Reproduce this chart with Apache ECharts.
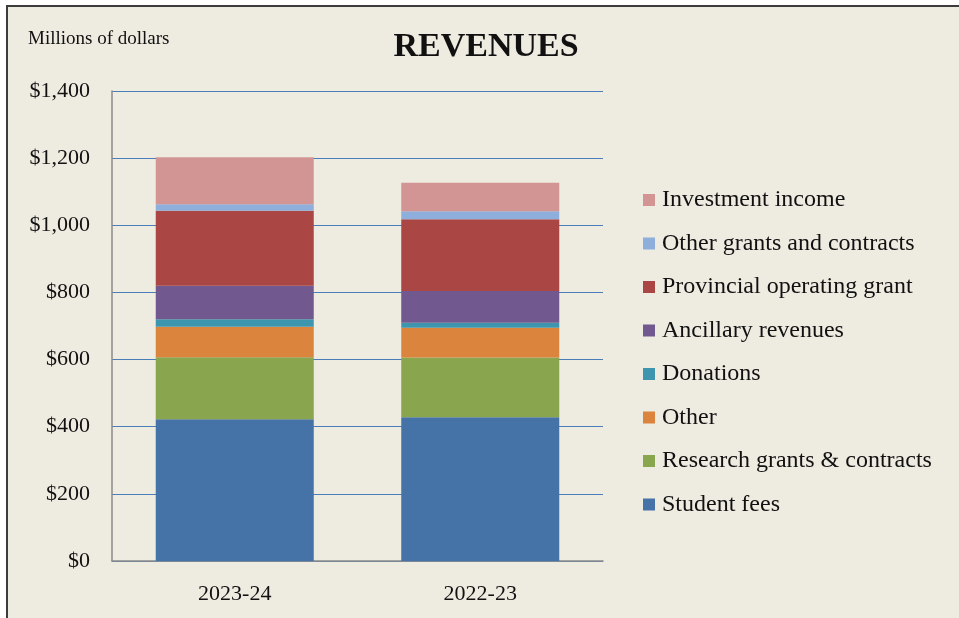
<!DOCTYPE html>
<html>
<head>
<meta charset="utf-8">
<script src="https://cdn.jsdelivr.net/npm/echarts@6/dist/echarts.min.js"></script>
<style>
  html, body { margin: 0; padding: 0; background: #fff; }
  #chart { width: 959px; height: 618px; }
</style>
</head>
<body>
<div id="chart"></div>
<script>
// years along the x axis
const years = ["2023-24", "2022-23"];

// revenue components, millions of dollars
const studentFees = [422, 428];
const researchGrants = [185, 178];
const other = [91, 89];
const donations = [22, 15];
const ancillary = [100, 94];
const provincialGrant = [223, 214];
const otherGrants = [20, 24];
const investmentIncome = [140, 85];

const yTicks = [0, 200, 400, 600, 800, 1000, 1200, 1400];

const serif = "'Liberation Serif', 'Times New Roman', serif";

const seriesDefs = [
  { name: "Student fees", data: studentFees, color: "#4572A7" },
  { name: "Research grants & contracts", data: researchGrants, color: "#89A54E" },
  { name: "Other", data: other, color: "#DB843D" },
  { name: "Donations", data: donations, color: "#3D96AE" },
  { name: "Ancillary revenues", data: ancillary, color: "#71588F" },
  { name: "Provincial operating grant", data: provincialGrant, color: "#AA4643" },
  { name: "Other grants and contracts", data: otherGrants, color: "#8EAEDB" },
  { name: "Investment income", data: investmentIncome, color: "#D39594" },
];

let myChart = echarts.init(document.getElementById("chart"));

myChart.setOption({
  animation: false,
  graphic: [
    {
      type: "rect",
      z: -10,
      shape: { x: 7, y: 6, width: 960, height: 620 },
      style: { fill: "#EEEBE1", stroke: "#3c3c3c", lineWidth: 2 },
    },
    {
      type: "text",
      left: 28,
      top: 30,
      style: { text: "Millions of dollars", font: "19px " + serif, fill: "#111" },
    },
  ],
  title: {
    text: "REVENUES",
    left: 481,
    textAlign: "center",
    top: 25,
    textStyle: { fontFamily: serif, fontSize: 34, fontWeight: "bold", color: "#111" },
  },
  legend: {
    orient: "vertical",
    left: 638,
    top: 183,
    itemWidth: 12,
    itemHeight: 12,
    itemGap: 19.5,
    icon: "rect",
    data: seriesDefs.map((s) => s.name).reverse(),
    textStyle: { fontFamily: serif, fontSize: 24, lineHeight: 24, color: "#111", padding: [0, 0, 0, 2] },
  },
  grid: {
    left: 112,
    right: 356,
    top: 91,
    bottom: 57,
  },
  xAxis: {
    type: "category",
    data: years,
    axisLine: { lineStyle: { color: "#8a8a8a", width: 1.5 } },
    axisTick: { show: false },
    axisLabel: { fontFamily: serif, fontSize: 22, color: "#111", margin: 22 },
  },
  yAxis: {
    type: "value",
    min: yTicks[0],
    max: yTicks[yTicks.length - 1],
    interval: 200,
    axisLine: { show: true, lineStyle: { color: "#8a8a8a", width: 1.5 } },
    axisTick: { show: false },
    splitLine: { lineStyle: { color: "#4A7EBB", width: 1.2 } },
    axisLabel: {
      fontFamily: serif,
      fontSize: 22,
      color: "#111",
      margin: 22,
      formatter: (v) => "$" + v.toLocaleString("en-US"),
    },
  },
  series: seriesDefs.map((s) => ({
    name: s.name,
    type: "bar",
    stack: "total",
    data: s.data,
    barWidth: 158,
    itemStyle: { color: s.color },
  })),
});
</script>
</body>
</html>
